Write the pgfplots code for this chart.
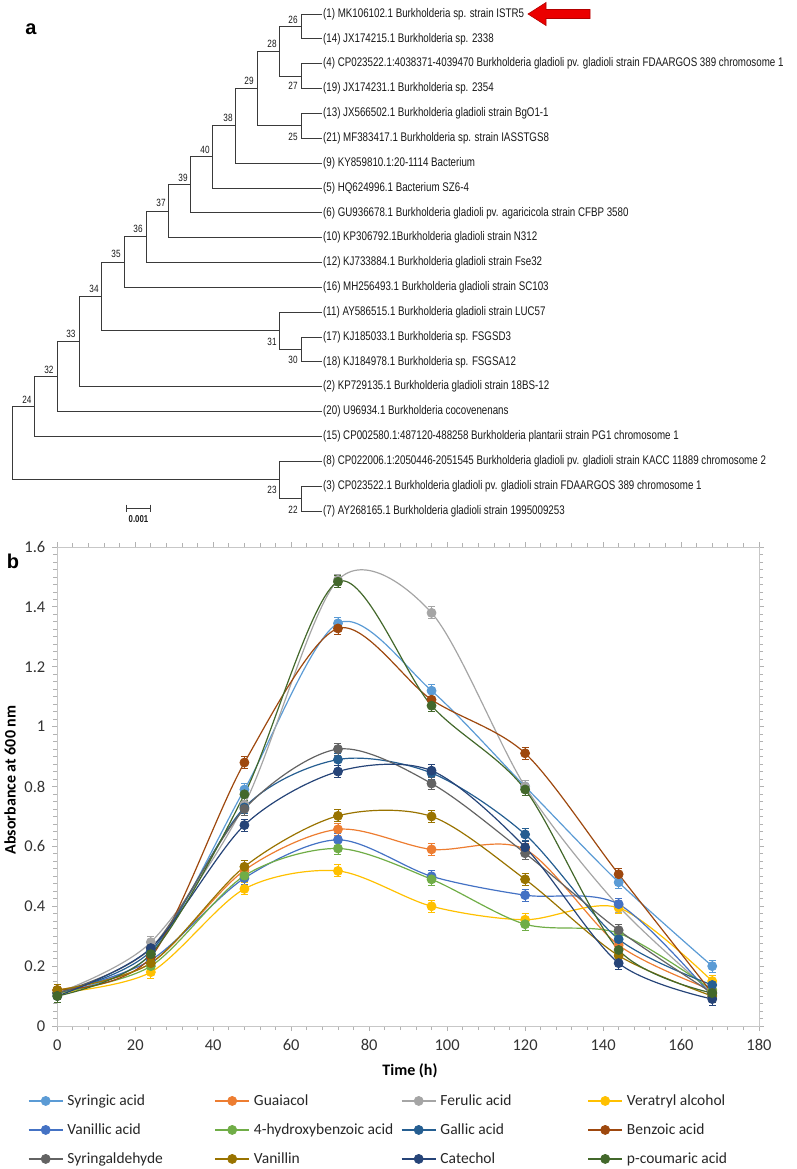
\documentclass[border=0pt]{standalone}
\usepackage{pgfplots}
\pgfplotsset{compat=1.18}
\usepackage{pgfplotstable}
\usepackage{fontspec}
\setmainfont{Carlito}
\newfontfamily\treefont[FakeStretch=0.78]{Liberation Sans}
\newfontfamily\arialfont{Liberation Sans}

\definecolor{cSy}{HTML}{5B9BD5}
\definecolor{cGu}{HTML}{ED7D31}
\definecolor{cFe}{HTML}{A5A5A5}
\definecolor{cVe}{HTML}{FFC000}
\definecolor{cVa}{HTML}{4472C4}
\definecolor{cHb}{HTML}{70AD47}
\definecolor{cGa}{HTML}{255E91}
\definecolor{cBe}{HTML}{9E480E}
\definecolor{cSa}{HTML}{636363}
\definecolor{cVn}{HTML}{997300}
\definecolor{cCa}{HTML}{264478}
\definecolor{cPc}{HTML}{43682B}
\definecolor{treeline}{HTML}{3A3A3A}

\pgfplotstableread{
t   sy    gu    fe    ve    va    hb    ga    be    sa    vn    ca    pc
0   0.11  0.12  0.11  0.11  0.11  0.11  0.11  0.12  0.11  0.12  0.10  0.10
24  0.24  0.21  0.28  0.18  0.22  0.20  0.25  0.23  0.26  0.21  0.26  0.24
48  0.79  0.52  0.74  0.458 0.494 0.502 0.73  0.88  0.725 0.532 0.671 0.774
72  1.345 0.657 1.49  0.518 0.622 0.593 0.89  1.328 0.925 0.702 0.85  1.484
96  1.12  0.59  1.38  0.40  0.50  0.49  0.845 1.09  0.81  0.70  0.853 1.07
120 0.80  0.59  0.80  0.355 0.437 0.34  0.64  0.911 0.577 0.49  0.597 0.79
144 0.48  0.27  0.40  0.395 0.407 0.31  0.29  0.507 0.32  0.235 0.21  0.254
168 0.20  0.12  0.11  0.15  0.10  0.12  0.137 0.11  0.11  0.10  0.09  0.11
}\growth

\newcommand{\lt}[1]{\makebox[147bp][l]{\rule[-3.5bp]{0pt}{14.5bp}#1}}

\pgfplotsset{
  ser/.style={color=#1, line width=1.2bp, smooth, mark=*, mark size=4.5bp,
    mark options={solid, fill=#1, draw=#1, line width=0.8bp},
    error bars/.cd, y dir=both, y fixed=0.02,
    error bar style={line width=0.9bp, color=#1},
    error mark options={rotate=90, mark size=3.5bp, line width=0.9bp, color=#1}},
  tree/.style={draw=treeline, line width=0.9bp, mark=none},
}

\begin{document}
\begin{tikzpicture}
\useasboundingbox (0,0) rectangle (797bp,-1169bp);
\begin{axis}[at={(0bp,0bp)}, anchor=north west, scale only axis,
  width=797bp, height=1169bp, xmin=0, xmax=797, ymin=0, ymax=1169,
  y dir=reverse, hide axis, clip=false]
% tree branches
\addplot[tree] coordinates {(322,14) (301.7,14) (301.7,38.85) (322,38.85)};
\addplot[tree] coordinates {(322,63.7) (301.7,63.7) (301.7,88.55) (322,88.55)};
\addplot[tree] coordinates {(301.7,26.43) (279.3,26.43) (279.3,76.13) (301.7,76.13)};
\addplot[tree] coordinates {(322,113.4) (301.7,113.4) (301.7,138.25) (322,138.25)};
\addplot[tree] coordinates {(279.3,51.28) (257.3,51.28) (257.3,125.83) (301.7,125.83)};
\addplot[tree] coordinates {(257.3,88.55) (235.3,88.55) (235.3,163.1) (322,163.1)};
\addplot[tree] coordinates {(235.3,125.83) (212.7,125.83) (212.7,187.95) (322,187.95)};
\addplot[tree] coordinates {(212.7,156.89) (190.7,156.89) (190.7,212.8) (322,212.8)};
\addplot[tree] coordinates {(190.7,184.84) (168.7,184.84) (168.7,237.65) (322,237.65)};
\addplot[tree] coordinates {(168.7,211.25) (146.7,211.25) (146.7,262.5) (322,262.5)};
\addplot[tree] coordinates {(146.7,236.87) (124,236.87) (124,287.35) (322,287.35)};
\addplot[tree] coordinates {(322,337.05) (301.7,337.05) (301.7,361.9) (322,361.9)};
\addplot[tree] coordinates {(322,312.2) (279.3,312.2) (279.3,349.48) (301.7,349.48)};
\addplot[tree] coordinates {(124,262.11) (101.7,262.11) (101.7,330.84) (279.3,330.84)};
\addplot[tree] coordinates {(101.7,296.47) (79,296.47) (79,386.75) (322,386.75)};
\addplot[tree] coordinates {(79,341.61) (57.3,341.61) (57.3,411.6) (322,411.6)};
\addplot[tree] coordinates {(57.3,376.6) (34.7,376.6) (34.7,436.45) (322,436.45)};
\addplot[tree] coordinates {(322,486.15) (301.7,486.15) (301.7,511) (322,511)};
\addplot[tree] coordinates {(322,461.3) (279.3,461.3) (279.3,498.58) (301.7,498.58)};
\addplot[tree] coordinates {(34.7,406.53) (12.7,406.53) (12.7,479.94) (279.3,479.94)};
% scale bar
\addplot[tree] coordinates {(126,504.5) (126,511.5)};
\addplot[tree] coordinates {(150.7,504.5) (150.7,511.5)};
\addplot[tree] coordinates {(126,508) (150.7,508)};
% red arrow
\addplot[fill=red!92!black, draw=red!70!black, line width=0.6bp, mark=none] coordinates
  {(528,14) (546,2.5) (546,9.5) (590,9.5) (590,18.5) (546,18.5) (546,25.5) (528,14)} --cycle;

\begin{scope}[every node/.style={anchor=west, inner sep=0pt, font=\treefont\fontsize{12.5bp}{14bp}\selectfont, text=black!90}]
\node at (axis cs:323,14) {(1) MK106102.1 Burkholderia sp. strain ISTR5};
\node at (axis cs:323,38.85) {(14) JX174215.1 Burkholderia sp. 2338};
\node at (axis cs:323,63.7) {(4) CP023522.1:4038371-4039470 Burkholderia gladioli pv. gladioli strain FDAARGOS 389 chromosome 1};
\node at (axis cs:323,88.55) {(19) JX174231.1 Burkholderia sp. 2354};
\node at (axis cs:323,113.4) {(13) JX566502.1 Burkholderia gladioli strain BgO1-1};
\node at (axis cs:323,138.25) {(21) MF383417.1 Burkholderia sp. strain IASSTGS8};
\node at (axis cs:323,163.1) {(9) KY859810.1:20-1114 Bacterium};
\node at (axis cs:323,187.95) {(5) HQ624996.1 Bacterium SZ6-4};
\node at (axis cs:323,212.8) {(6) GU936678.1 Burkholderia gladioli pv. agaricicola strain CFBP 3580};
\node at (axis cs:323,237.65) {(10) KP306792.1Burkholderia gladioli strain N312};
\node at (axis cs:323,262.5) {(12) KJ733884.1 Burkholderia gladioli strain Fse32};
\node at (axis cs:323,287.35) {(16) MH256493.1 Burkholderia gladioli strain SC103};
\node at (axis cs:323,312.2) {(11) AY586515.1 Burkholderia gladioli strain LUC57};
\node at (axis cs:323,337.05) {(17) KJ185033.1 Burkholderia sp. FSGSD3};
\node at (axis cs:323,361.9) {(18) KJ184978.1 Burkholderia sp. FSGSA12};
\node at (axis cs:323,386.75) {(2) KP729135.1 Burkholderia gladioli strain 18BS-12};
\node at (axis cs:323,411.6) {(20) U96934.1 Burkholderia cocovenenans};
\node at (axis cs:323,436.45) {(15) CP002580.1:487120-488258 Burkholderia plantarii strain PG1 chromosome 1};
\node at (axis cs:323,461.3) {(8) CP022006.1:2050446-2051545 Burkholderia gladioli pv. gladioli strain KACC 11889 chromosome 2};
\node at (axis cs:323,486.15) {(3) CP023522.1 Burkholderia gladioli pv. gladioli strain FDAARGOS 389 chromosome 1};
\node at (axis cs:323,511) {(7) AY268165.1 Burkholderia gladioli strain 1995009253};
\end{scope}
\begin{scope}[every node/.style={inner sep=0pt, font=\treefont\fontsize{10.5bp}{12bp}\selectfont, text=black!90}]
\node at (axis cs:293,20) {26};
\node at (axis cs:272,44) {28};
\node at (axis cs:249,81) {29};
\node at (axis cs:228,118) {38};
\node at (axis cs:205,150) {40};
\node at (axis cs:183,178) {39};
\node at (axis cs:161,203) {37};
\node at (axis cs:138,229) {36};
\node at (axis cs:116,254) {35};
\node at (axis cs:94,289) {34};
\node at (axis cs:71,334) {33};
\node at (axis cs:49,370) {32};
\node at (axis cs:27,400) {24};
\node at (axis cs:293,86) {27};
\node at (axis cs:293,137) {25};
\node at (axis cs:272,342) {31};
\node at (axis cs:293,360) {30};
\node at (axis cs:272,490) {23};
\node at (axis cs:293,510) {22};
\node[font=\treefont\bfseries\fontsize{10bp}{12bp}\selectfont] at (axis cs:138.5,519.5) {0.001};
\end{scope}
\node[font=\arialfont\bfseries\fontsize{20bp}{22bp}\selectfont, inner sep=0pt] at (axis cs:31,29) {a};
\node[font=\arialfont\bfseries\fontsize{20bp}{22bp}\selectfont, inner sep=0pt] at (axis cs:13,561) {b};
\end{axis}

\begin{axis}[at={(57.3bp,-1026bp)}, anchor=south west, scale only axis,
  width=701.7bp, height=479bp,
  xmin=0, xmax=180, ymin=0, ymax=1.6,
  xtick={0,20,40,60,80,100,120,140,160,180},
  xticklabels={0,20,40,60,80,100,120,140,160,180},
  ytick={0,0.2,0.4,0.6,0.8,1,1.2,1.4,1.6},
  yticklabels={0,0.2,0.4,0.6,0.8,1,1.2,1.4,1.6},
  minor x tick num=4, minor y tick num=7,
  tick align=outside, major tick length=5bp, minor tick length=4bp,
  tick style={draw=black!30, line width=0.8bp},
  axis line style={draw=black!22, line width=0.9bp},
  tick label style={font=\fontsize{16.5bp}{19bp}\selectfont, text=black!80},
  /pgf/number format/assume math mode=true,
  yticklabel style={xshift=-3.5bp},
  xticklabel style={yshift=-5bp},
  xlabel={\bfseries Time (h)},
  ylabel={\bfseries Absorbance at 600 nm},
  label style={font=\fontsize{16bp}{18bp}\selectfont},
  xlabel style={at={(axis description cs:0.5026,-0.094)}, anchor=center},
  ylabel style={at={(axis description cs:-0.0674,0.5136)}, anchor=center, rotate=0},
  legend columns=4,
  legend style={at={(axis description cs:-0.0418,-0.1434)}, anchor=north west,
    draw=none, fill=none, inner sep=0pt, outer sep=0pt, row sep=16.5bp,
    nodes={inner sep=0pt, font=\fontsize{15.5bp}{18bp}\selectfont, text=black!85},
    /tikz/every odd column/.append style={column sep=4bp}},
  legend image code/.code={\draw[mark repeat=2, mark phase=2, line width=1.5bp, mark size=4.5bp] plot coordinates {(0bp,0bp) (17bp,0bp) (34bp,0bp)};},
  clip=false]
\addplot[ser=cSy] table[x=t,y=sy]{\growth}; \addlegendentry{\lt{Syringic acid}}
\addplot[ser=cGu] table[x=t,y=gu]{\growth}; \addlegendentry{\lt{Guaiacol}}
\addplot[ser=cFe] table[x=t,y=fe]{\growth}; \addlegendentry{\lt{Ferulic acid}}
\addplot[ser=cVe] table[x=t,y=ve]{\growth}; \addlegendentry{\lt{Veratryl alcohol}}
\addplot[ser=cVa] table[x=t,y=va]{\growth}; \addlegendentry{\lt{Vanillic acid}}
\addplot[ser=cHb] table[x=t,y=hb]{\growth}; \addlegendentry{\lt{4-hydroxybenzoic acid}}
\addplot[ser=cGa] table[x=t,y=ga]{\growth}; \addlegendentry{\lt{Gallic acid}}
\addplot[ser=cBe] table[x=t,y=be]{\growth}; \addlegendentry{\lt{Benzoic acid}}
\addplot[ser=cSa] table[x=t,y=sa]{\growth}; \addlegendentry{\lt{Syringaldehyde}}
\addplot[ser=cVn] table[x=t,y=vn]{\growth}; \addlegendentry{\lt{Vanillin}}
\addplot[ser=cCa] table[x=t,y=ca]{\growth}; \addlegendentry{\lt{Catechol}}
\addplot[ser=cPc] table[x=t,y=pc]{\growth}; \addlegendentry{\lt{p-coumaric acid}}
\end{axis}
\end{tikzpicture}
\end{document}
